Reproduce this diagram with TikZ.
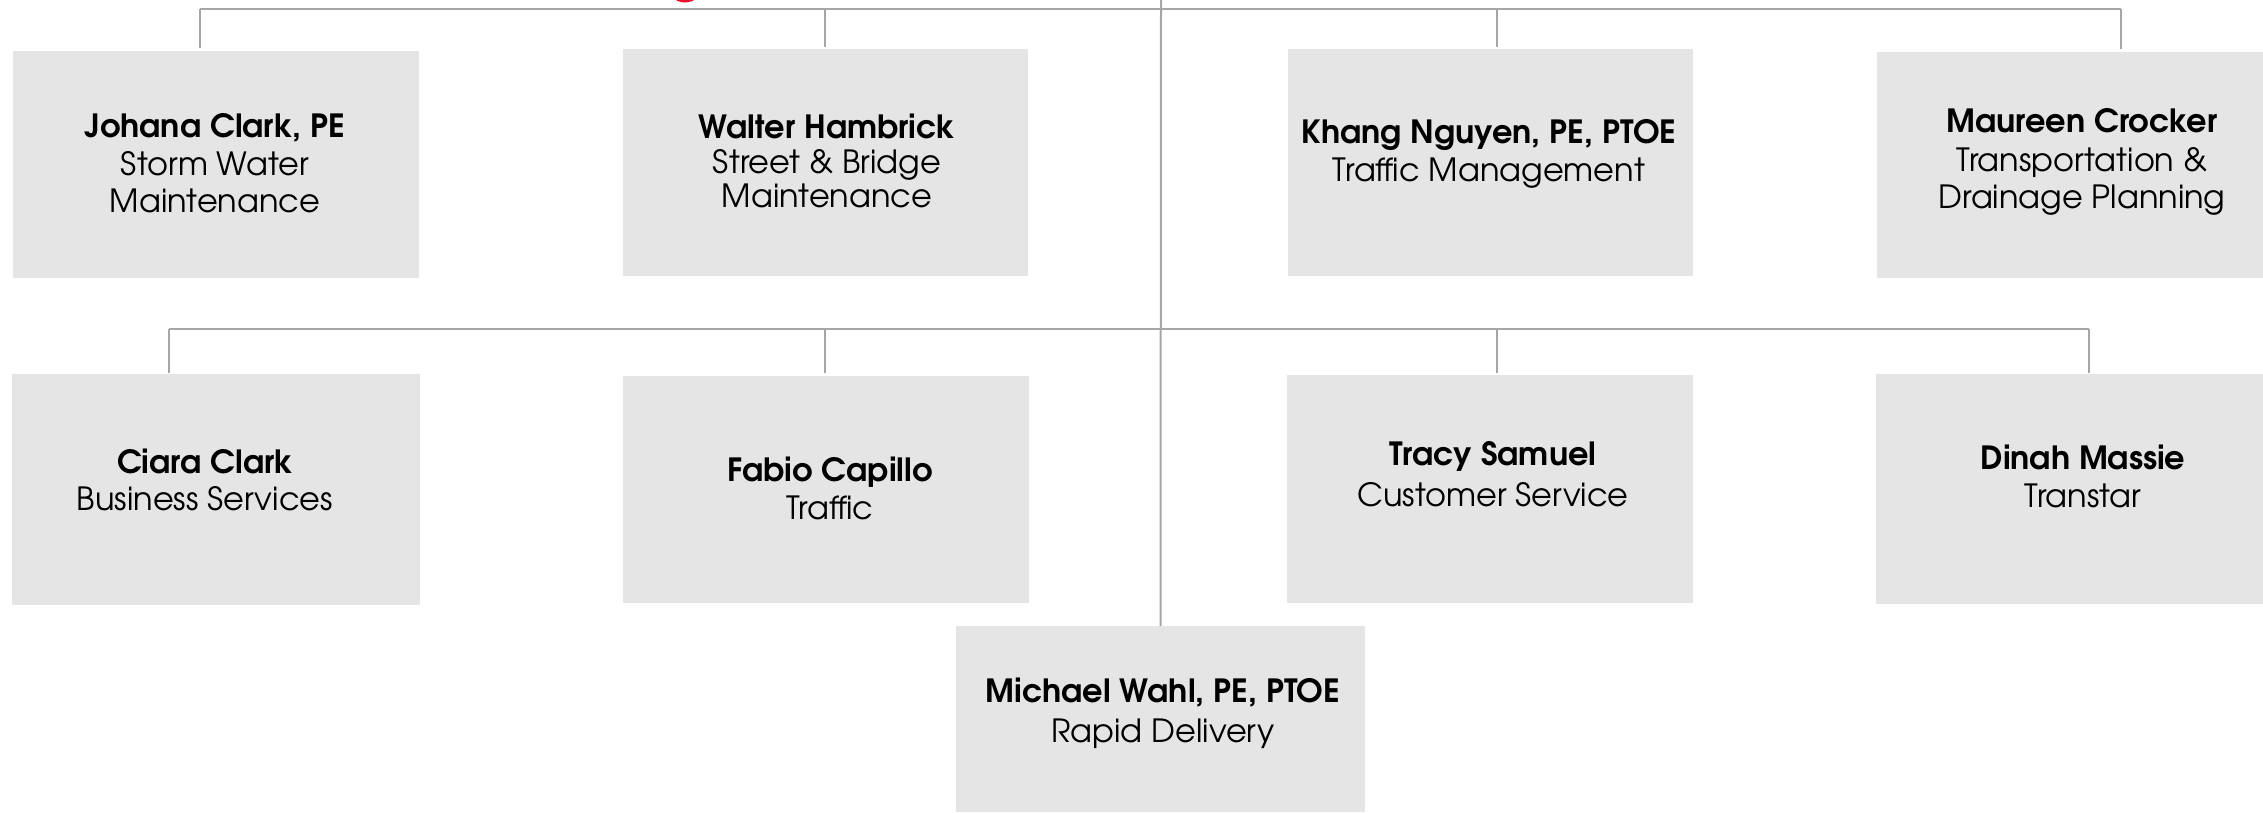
\documentclass[tikz,border=0pt]{standalone}
\usepackage{fontspec}
\setmainfont{TeX Gyre Adventor}
\definecolor{boxgray}{RGB}{229,229,229}
\definecolor{linegray}{RGB}{166,166,166}
\definecolor{logored}{RGB}{232,20,45}
\tikzset{
  orgbox/.style={fill=boxgray, draw=none, inner sep=0pt},
  conn/.style={draw=linegray, line width=2pt},
  nm/.style={anchor=base, inner sep=0pt, font=\fontsize{32}{38}\selectfont\bfseries},
  rl/.style={anchor=base, inner sep=0pt, font=\fontsize{32}{38}\selectfont},
}
\newcommand{\orgrect}[5]{\path[orgbox] (#2,#3) rectangle (#4,#5) node[midway, name=#1, minimum width={#4-#2}, minimum height={#5-#3}] {};}
\begin{document}
\begin{tikzpicture}[x=1pt,y=-1pt]
\useasboundingbox (0,0) rectangle (2263,812);
% logo fragment
\draw[logored, line width=3pt] (685,-16) circle (17);
% boxes
\orgrect{b1}{13}{51}{419}{278}
\orgrect{b2}{623}{49}{1028}{276}
\orgrect{b3}{1288}{49}{1693}{276}
\orgrect{b4}{1877}{52}{2263}{278}
\orgrect{b5}{12}{374}{420}{605}
\orgrect{b6}{623}{376}{1029}{603}
\orgrect{b7}{1287}{375}{1693}{603}
\orgrect{b8}{1876}{374}{2263}{604}
\orgrect{b9}{956}{626}{1365}{812}
% connector coordinates
\coordinate (hub) at (1161,0);
\coordinate (j1) at (200,9);
\coordinate (j2) at (825,9);
\coordinate (j3) at (1497,9);
\coordinate (j4) at (2121,9);
\coordinate (k1) at (169,329);
\coordinate (k2) at (825,329);
\coordinate (k3) at (1497,329);
\coordinate (k4) at (2089,329);
\coordinate (e1) at (200,48);
\coordinate (e2) at (825,47);
\coordinate (e3) at (1497,47);
\coordinate (e4) at (2121,49);
\coordinate (f1) at (169,373);
\coordinate (f2) at (825,373);
\coordinate (f3) at (1497,373);
\coordinate (f4) at (2089,373);
% connectors
\draw[conn] (hub) -- (b9.north);
\draw[conn] (j1) -- (j4);
\draw[conn] (k1) -- (k4);
\draw[conn] (j1) -- (e1);
\draw[conn] (j2) -- (e2);
\draw[conn] (j3) -- (e3);
\draw[conn] (j4) -- (e4);
\draw[conn] (k1) -- (f1);
\draw[conn] (k2) -- (f2);
\draw[conn] (k3) -- (f3);
\draw[conn] (k4) -- (f4);
% texts
\node[nm] (t1a) at (215,137) {Johana Clark, PE};
\node[rl] (t1b) at (215,175) {Storm Water};
\node[rl] (t1c) at (215,212) {Maintenance};
\node[nm] (t2a) at (827,138) {Walter Hambrick};
\node[rl] (t2b) at (827,173) {Street \& Bridge};
\node[rl] (t2c) at (827,207) {Maintenance};
\node[nm] (t3a) at (1489,143) {Khang Nguyen, PE, PTOE};
\node[rl] (t3b) at (1489,181) {Traffic Management};
\node[nm] (t4a) at (2082,132) {Maureen Crocker};
\node[rl] (t4b) at (2082,171) {Transportation \&};
\node[rl] (t4c) at (2082,208) {Drainage Planning};
\node[nm] (t5a) at (205,473) {Ciara Clark};
\node[rl] (t5b) at (205,510) {Business Services};
\node[nm] (t6a) at (830,481) {Fabio Capillo};
\node[rl] (t6b) at (830,519) {Traffic};
\node[nm] (t7a) at (1493,465) {Tracy Samuel};
\node[rl] (t7b) at (1493,506) {Customer Service};
\node[nm] (t8a) at (2083,469) {Dinah Massie};
\node[rl] (t8b) at (2083,507) {Transtar};
\node[nm] (t9a) at (1163,702) {Michael Wahl, PE, PTOE};
\node[rl] (t9b) at (1163,742) {Rapid Delivery};
\end{tikzpicture}
\end{document}
